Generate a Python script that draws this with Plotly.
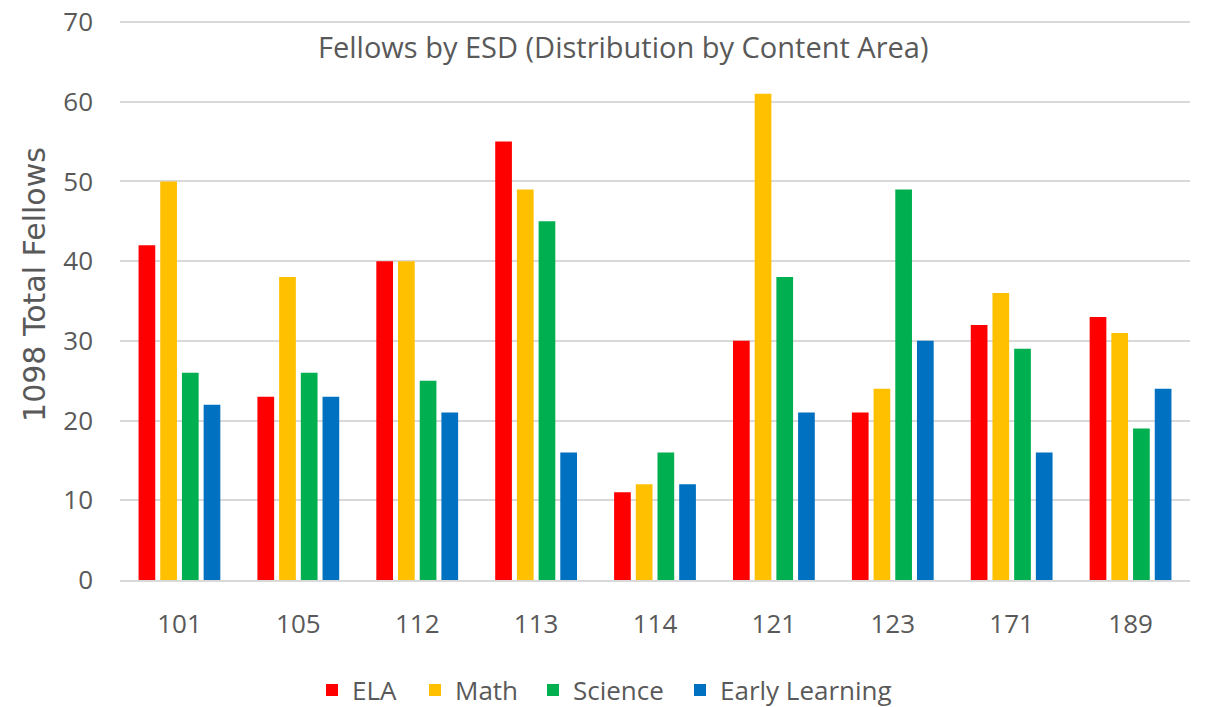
import plotly.graph_objects as go

categories = ["101", "105", "112", "113", "114", "121", "123", "171", "189"]
ela = [42, 23, 40, 55, 11, 30, 21, 32, 33]
math = [50, 38, 40, 49, 12, 61, 24, 36, 31]
science = [26, 26, 25, 45, 16, 38, 49, 29, 19]
early = [22, 23, 21, 16, 12, 21, 30, 16, 24]
y_ticks = [0, 10, 20, 30, 40, 50, 60, 70]

series = [("ELA", ela, "#FF0000"), ("Math", math, "#FFC000"),
          ("Science", science, "#00B050"), ("Early Learning", early, "#0070C0")]

font = "Open Sans"
grey = "#595959"
W, H = 1197, 699
legend_names = ["legend", "legend2", "legend3", "legend4"]
legend_left = [304, 407, 525, 672]

fig = go.Figure()
for (name, vals, col), lg in zip(series, legend_names):
    fig.add_trace(go.Bar(name=name, x=categories, y=vals, marker_color=col,
                         marker_line_width=0, legend=lg))

legend_layout = {}
for lg, lx in zip(legend_names, legend_left):
    legend_layout[lg] = dict(orientation="h", x=lx / W, xref="container", xanchor="left",
                             y=1 - 682 / H, yref="container", yanchor="middle",
                             font=dict(size=26, color=grey), bgcolor="rgba(0,0,0,0)")

fig.update_layout(
    width=W, height=H,
    margin=dict(l=112, r=15, t=12, b=127, autoexpand=False),
    plot_bgcolor="white", paper_bgcolor="white",
    barmode="group", bargap=0.27, bargroupgap=0.23,
    font=dict(family=font, color=grey, size=22),
    showlegend=True,
    xaxis=dict(showgrid=False, showline=True, linecolor="#D9D9D9", linewidth=2,
               ticks="", tickfont=dict(size=26, color=grey), ticklabelstandoff=20,
               automargin=False),
    yaxis=dict(range=[0, 70.25], tickvals=y_ticks, showgrid=True, gridcolor="#D9D9D9",
               gridwidth=2, zeroline=False, showline=False, ticks="",
               tickfont=dict(size=26, color=grey), ticklabelstandoff=26, automargin=False,
               ticklabeloverflow="allow"),
    annotations=[
        dict(text="Fellows by ESD (Distribution by Content Area)", xref="paper", yref="paper",
             x=0.47, y=0.952, xanchor="center", yanchor="middle", showarrow=False,
             font=dict(size=29, color=grey, family=font)),
        dict(text="1098 Total Fellows", xref="paper", yref="paper", x=-0.0794, y=0.527,
             xanchor="center", yanchor="middle", textangle=-90, showarrow=False,
             font=dict(size=30, color=grey, family="DejaVu Sans")),
    ],
    **legend_layout,
)

fig.write_html("out.html")
